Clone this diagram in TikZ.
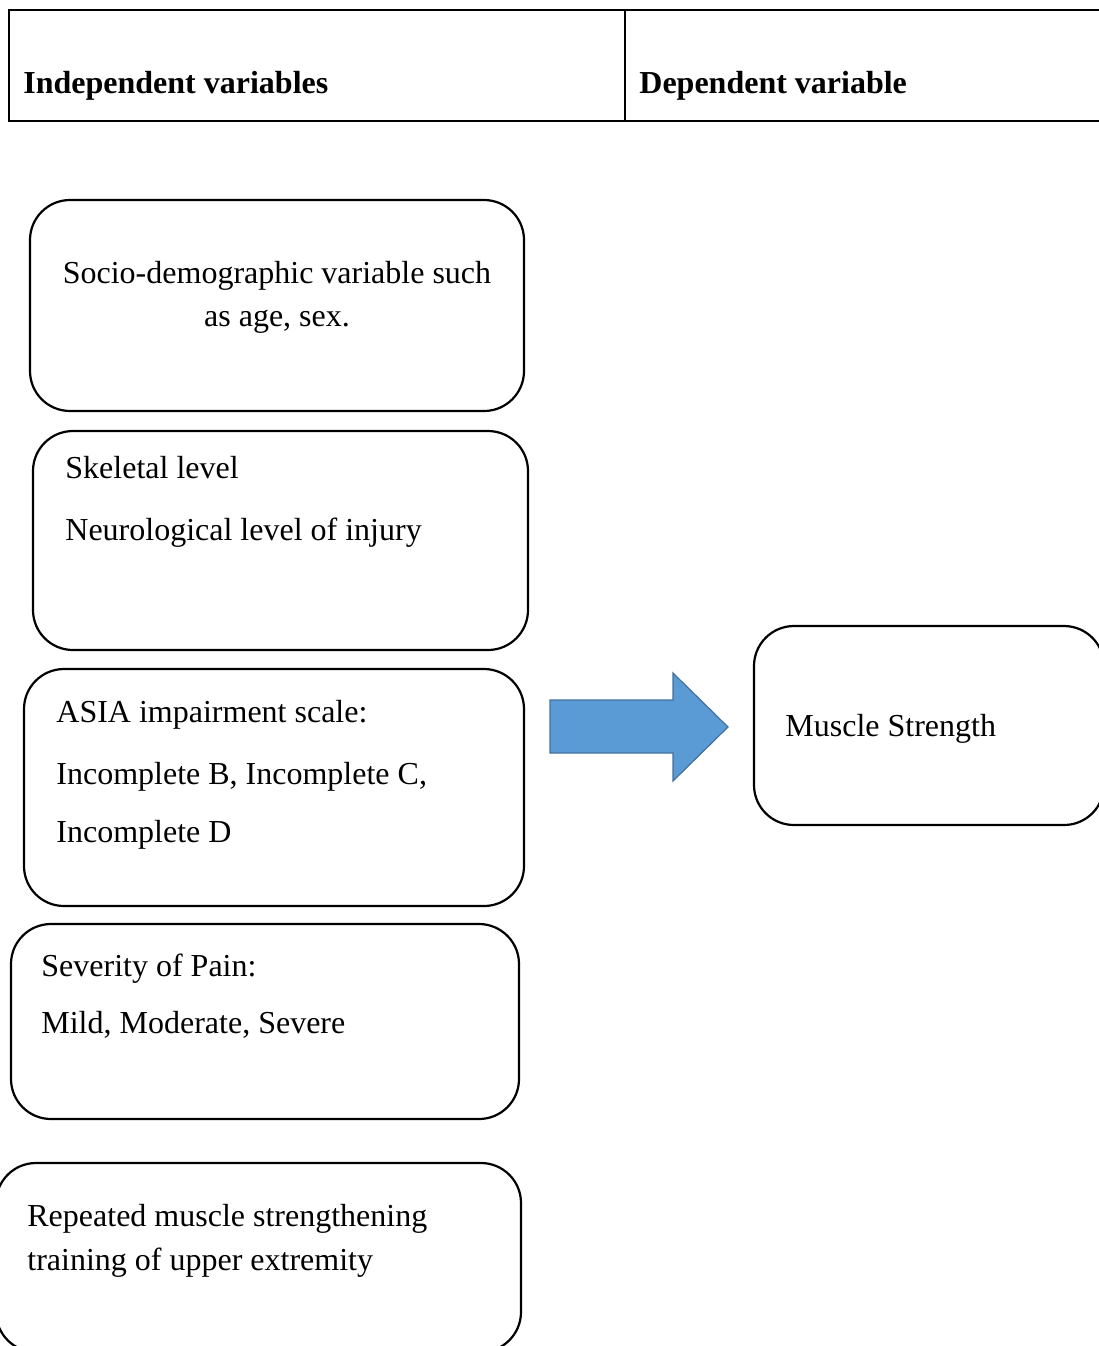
\documentclass[tikz,border=0pt]{standalone}
\usepackage{fontspec}
\setmainfont{Liberation Serif}
\begin{document}
\begin{tikzpicture}[x=0.5pt,y=-0.5pt,
  vbox/.style={draw=black,line width=1.1pt,rounded corners=20pt},
  txt/.style={anchor=base west,inner sep=0pt,font=\fontsize{16pt}{19pt}\selectfont},
  ctxt/.style={anchor=base,inner sep=0pt,font=\fontsize{16pt}{19pt}\selectfont},
  hdr/.style={anchor=base west,inner sep=0pt,font=\fontsize{16pt}{19pt}\selectfont\bfseries},
  tline/.style={line width=0.8pt}]
\useasboundingbox (0,0) rectangle (1099,1346);
% table header
\coordinate (tl) at (9,10);
\coordinate (tr) at (1105,10);
\coordinate (bl) at (9,121);
\coordinate (br) at (1105,121);
\coordinate (mt) at (625,10);
\coordinate (mb) at (625,121);
\draw[tline] (tr) -- (tl) -- (bl) -- (br);
\draw[tline] (mt) -- (mb);
\node[hdr] (h1) at (23,93) {Independent variables};
\node[hdr] (h2) at (639,93) {Dependent variable};
% boxes
\draw[vbox] (30,200) rectangle (524,411);
\node[ctxt] (t1a) at (277,283) {Socio-demographic variable such};
\node[ctxt] (t1b) at (277,326) {as age, sex.};

\draw[vbox] (33,431) rectangle (528,650);
\node[txt] (t2a) at (65,478) {Skeletal level};
\node[txt] (t2b) at (65,540) {Neurological level of injury};

\draw[vbox] (24,669) rectangle (524,906);
\node[txt] (t3a) at (56,722) {ASIA impairment scale:};
\node[txt] (t3b) at (56,784) {Incomplete B, Incomplete C,};
\node[txt] (t3c) at (56,842) {Incomplete D};

\draw[vbox] (11,924) rectangle (519,1119);
\node[txt] (t4a) at (41,976) {Severity of Pain:};
\node[txt] (t4b) at (41,1033) {Mild, Moderate, Severe};

\draw[vbox] (-4,1163) rectangle (521,1352);
\node[txt] (t5a) at (27,1226) {Repeated muscle strengthening};
\node[txt] (t5b) at (27,1270) {training of upper extremity};

\draw[vbox] (754,626) rectangle (1104,825);
\node[txt] (t6) at (785,736) {Muscle Strength};

% block arrow
\draw[fill={rgb,255:red,91;green,155;blue,213},draw={rgb,255:red,65;green,113;blue,156},line width=0.6pt]
  (550,700) -- (673,700) -- (673,673) -- (728,727) -- (673,781) -- (673,753) -- (550,753) -- cycle;
\end{tikzpicture}
\end{document}
